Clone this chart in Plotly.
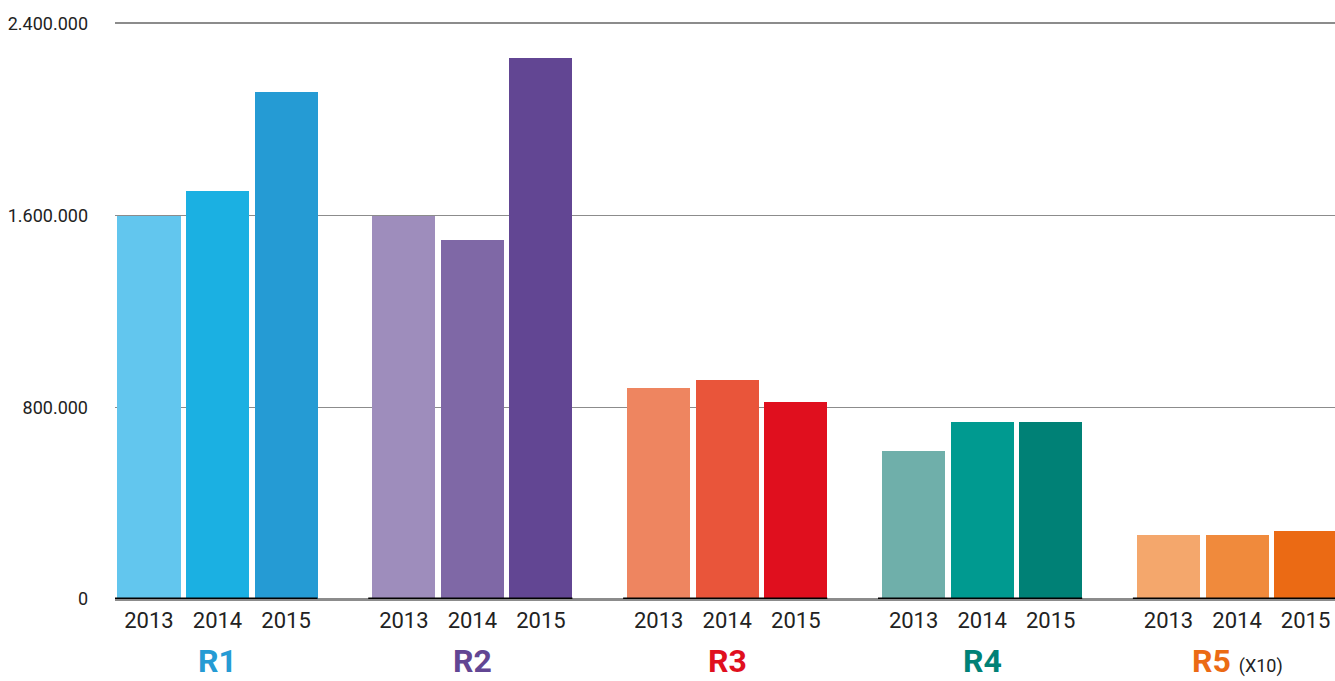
import plotly.graph_objects as go

regions = ["R1", "R2", "R3", "R4", "R5"]
years = ["2013", "2014", "2015"]
r1 = [1600000, 1703000, 2116000]
r2 = [1600000, 1498000, 2258000]
r3 = [881000, 914000, 822000]
r4 = [618000, 739000, 739000]
r5 = [267000, 267000, 284000]
values = [r1, r2, r3, r4, r5]

bar_colors = [
    ["#62C6EE", "#1BB0E2", "#259BD4"],
    ["#9E8DBC", "#7F68A6", "#624693"],
    ["#EE8560", "#E9553A", "#E00F1E"],
    ["#6FAFAA", "#009A90", "#008176"],
    ["#F4A76C", "#F08A3C", "#EB6A14"],
]
label_colors = ["#259BD4", "#624693", "#E00F1E", "#008176", "#EB6A14"]
label_suffix = ["", "", "", "", " <span style='font-size:18px;font-weight:normal;color:#222'>(X10)</span>"]

ytick_vals = [0, 800000, 1600000, 2400000]
ytick_text = ["0", "800.000", "1.600.000", "2.400.000"]

FONT = "Roboto, sans-serif"
GROUP_STEP = 3.72
BAR_W = 0.92

fig = go.Figure()
xs_all, txt_all = [], []
for g, (reg, vals) in enumerate(zip(regions, values)):
    xs = [g * GROUP_STEP + j for j in range(len(years))]
    xs_all += xs
    txt_all += years
    fig.add_trace(go.Bar(x=xs, y=vals, width=BAR_W, marker=dict(color=bar_colors[g], line=dict(width=0)),
                         name=reg, showlegend=False, hoverinfo="y"))
    # black baseline under group
    fig.add_shape(type="line", xref="x", yref="y", x0=xs[0] - BAR_W / 2 - 0.06, x1=xs[-1] + BAR_W / 2,
                  y0=0, y1=0, line=dict(color="#000000", width=3), layer="above")
    fig.add_annotation(x=xs[1], xref="x", y=-82 / 575, yref="paper", yanchor="bottom",
                       borderpad=0,
                       text="<b>" + reg + "</b>" + label_suffix[g], showarrow=False,
                       font=dict(family=FONT, size=32, color=label_colors[g]))

fig.update_layout(
    width=1335, height=681,
    margin=dict(l=115, r=0, t=24, b=82),
    plot_bgcolor="white", paper_bgcolor="white",
    bargap=0,
    font=dict(family=FONT, color="#222222"),
    xaxis=dict(range=[-0.496, 17.31], tickvals=xs_all, ticktext=txt_all, showgrid=False,
               zeroline=False, showline=True, mirror=True, linecolor="#8c8c8c", linewidth=1.5,
               ticks="", tickfont=dict(size=22, color="#222222"), ticklabelstandoff=1,
               fixedrange=True),
    yaxis=dict(range=[0, 2400000], tickvals=ytick_vals, ticktext=ytick_text, showgrid=True,
               gridcolor="#8c8c8c", gridwidth=1, zeroline=True, zerolinecolor="#8c8c8c",
               zerolinewidth=1.5, showline=False, ticks="", tickfont=dict(size=18, color="#222222"),
               ticklabelstandoff=26, fixedrange=True),
)

fig.write_html("out.html", config={"displayModeBar": False},
               post_script="document.body.style.margin='0';document.body.style.overflow='hidden';")
